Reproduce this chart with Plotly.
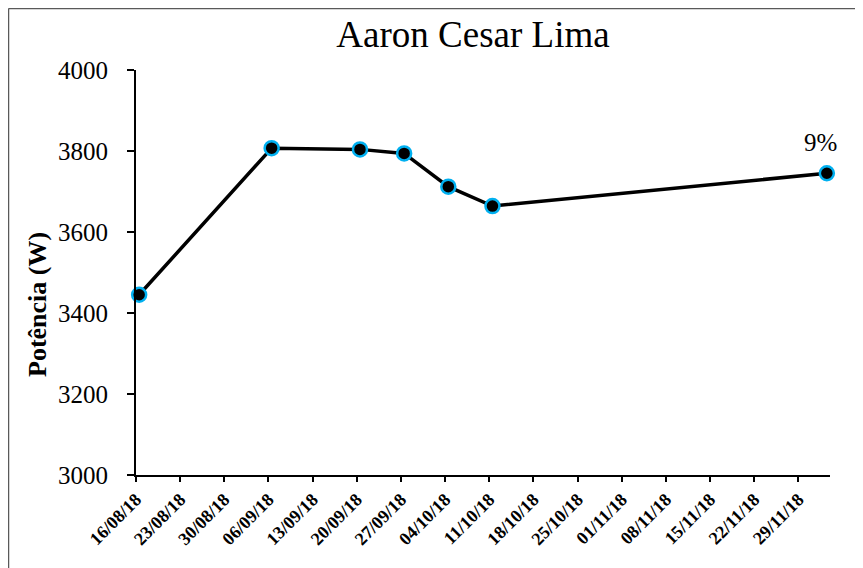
import plotly.graph_objects as go
import pandas as pd

dates = ["2018-08-16", "2018-09-06", "2018-09-20", "2018-09-27", "2018-10-04", "2018-10-11", "2018-12-03"]
potencia = [3445, 3807, 3804, 3794, 3712, 3664, 3745]
title = "Aaron Cesar Lima"
y_title = "Potência (W)"
last_label = "9%"

# Excel-style date axis: points sit in the middle of their day
x_pos = pd.to_datetime(dates) + pd.Timedelta(hours=12)

# page body has an 8px margin, so the figure starts at (8, 8) on screen
OFF = 8
W, H = 863 - OFF, 568 - OFF
L, T = 136 - OFF, 70 - OFF
R = W - (830 - OFF)
B = H - (475 - OFF)
pw, ph = W - L - R, H - T - B

def px_x(sx):
    return (sx - OFF - L) / pw

def px_y(sy):
    return (H - B - (sy - OFF)) / ph

fig = go.Figure()
fig.add_trace(go.Scatter(
    x=x_pos, y=potencia, mode="lines+markers",
    line=dict(color="black", width=3.5),
    marker=dict(size=14, color="black", line=dict(color="#00B0F0", width=2.5)),
    showlegend=False, cliponaxis=False,
))

fig.add_annotation(x=x_pos[-1], y=potencia[-1], text=last_label, showarrow=False,
                   xanchor="center", yanchor="bottom", yshift=15, xshift=-6,
                   font=dict(family="Liberation Serif", size=25, color="black"))

fig.add_annotation(xref="paper", yref="paper", x=px_x(37), y=px_y(305),
                   text="<b>" + y_title + "</b>", textangle=-90, showarrow=False,
                   xanchor="center", yanchor="middle",
                   font=dict(family="Liberation Serif", size=26, color="black"))

# outer chart-area border (left and top visible)
fig.add_shape(type="line", xref="paper", yref="paper",
              x0=px_x(8.5), x1=px_x(900), y0=px_y(8.5), y1=px_y(8.5),
              line=dict(color="#595959", width=1.5))
fig.add_shape(type="line", xref="paper", yref="paper",
              x0=px_x(8.5), x1=px_x(8.5), y0=px_y(8.5), y1=px_y(600),
              line=dict(color="#595959", width=1.5))

fig.update_layout(
    width=W, height=H,
    margin=dict(l=L, r=R, t=T, b=B),
    paper_bgcolor="white", plot_bgcolor="white",
    title=dict(text=title, x=(473 - OFF) / W, xanchor="center", y=1 - (34 - OFF) / H, yanchor="middle",
               font=dict(family="Liberation Serif", size=37, color="black")),
    xaxis=dict(
        type="date", range=["2018-08-16", "2018-12-04"],
        tick0="2018-08-16", dtick=7 * 86400000, tickformat="%d/%m/%y",
        tickangle=-45, ticks="outside", ticklen=5, tickwidth=2, tickcolor="black",
        showline=True, linecolor="black", linewidth=2, showgrid=False, zeroline=False,
        tickfont=dict(family="Liberation Serif", size=18, color="black", weight="bold"),
    ),
    yaxis=dict(
        range=[3000, 4000], dtick=200, ticks="outside", ticklen=7, tickwidth=2,
        tickcolor="black", showline=True, linecolor="black", linewidth=2,
        showgrid=False, zeroline=False, ticklabelstandoff=14,
        tickfont=dict(family="Liberation Serif", size=25, color="black"),
    ),
)

fig.write_html("out.html")
